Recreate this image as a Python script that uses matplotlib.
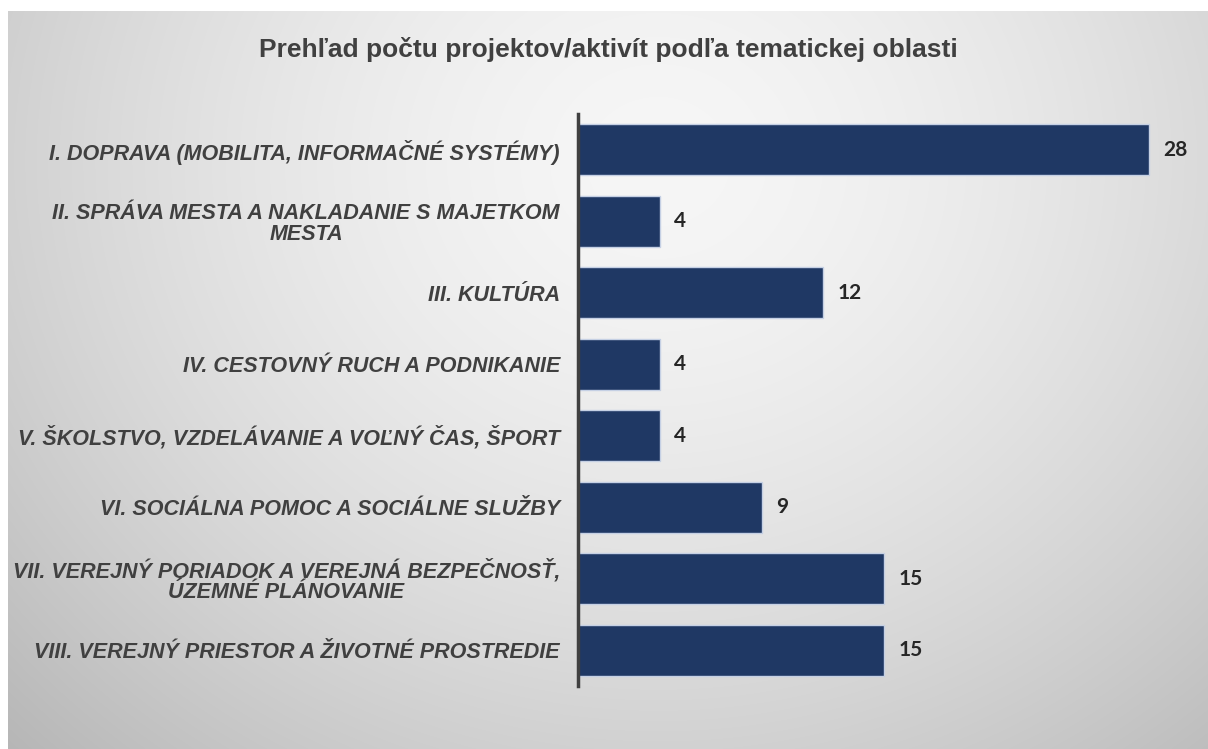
import numpy as np
import matplotlib
matplotlib.use("Agg")
import matplotlib.pyplot as plt

categories = [
    "I. DOPRAVA (MOBILITA, INFORMAČNÉ SYSTÉMY)",
    "II. SPRÁVA MESTA A NAKLADANIE S MAJETKOM\nMESTA",
    "III. KULTÚRA",
    "IV. CESTOVNÝ RUCH A PODNIKANIE",
    "V. ŠKOLSTVO, VZDELÁVANIE A VOĽNÝ ČAS, ŠPORT",
    "VI. SOCIÁLNA POMOC A SOCIÁLNE SLUŽBY",
    "VII. VEREJNÝ PORIADOK A VEREJNÁ BEZPEČNOSŤ,\nÚZEMNÉ PLÁNOVANIE",
    "VIII. VEREJNÝ PRIESTOR A ŽIVOTNÉ PROSTREDIE",
]
values = [28, 4, 12, 4, 4, 9, 15, 15]
title = "Prehľad počtu projektov/aktivít podľa tematickej oblasti"

W, H = 1208, 749
fig = plt.figure(figsize=(W / 100, H / 100), dpi=100)
fig.patch.set_facecolor("white")

# background gradient panel
bg = fig.add_axes([8 / W, 0, 1 - 8 / W, 1 - 11 / H])
yy, xx = np.mgrid[0:738, 0:1200]
cx, cy = 650, 150
r = np.sqrt(((xx - cx) / 1.0) ** 2 + ((yy - cy) / 0.9) ** 2)
v = 0.965 - 0.20 * np.clip(r / 800, 0, 1.2) ** 1.6
img = np.dstack([v, v, v])
bg.imshow(img, aspect="auto", extent=[0, 1, 0, 1], origin="upper")
bg.axis("off")
bg.set_zorder(0)

ax = fig.add_axes([578 / W, 1 - 686 / H, (1190 - 578) / W, (686 - 114) / H])
ax.set_zorder(1)
ax.patch.set_alpha(0)
ypos = np.arange(len(categories))
ax.barh(ypos, values, height=0.72, color="#1f3864", edgecolor="#c5d0e4", linewidth=1.0)
ax.set_xlim(0, 30)
ax.set_ylim(len(categories) - 0.5, -0.5)
ax.set_xticks([])
ax.set_yticks(ypos)
ax.set_yticklabels(categories, fontfamily="Liberation Sans", fontsize=15.5,
                   fontstyle="italic", fontweight="bold", color="#404040",
                   multialignment="center", linespacing=1.0)
ax.tick_params(axis="y", length=0, pad=13)
for s in ["top", "right", "bottom"]:
    ax.spines[s].set_visible(False)
ax.spines["left"].set_color("#404040")
ax.spines["left"].set_linewidth(2.5)

for y, v_ in zip(ypos, values):
    ax.text(v_ + 0.7, y, str(v_), va="center", ha="left", fontfamily="Lato",
            fontweight="bold", fontsize=15, color="#262626")

fig.text(608 / W, 1 - 50 / H, title, ha="center", va="center",
         fontfamily="Liberation Sans", fontweight="bold", fontsize=19, color="#404040")

fig.savefig("out.png", dpi=100)
